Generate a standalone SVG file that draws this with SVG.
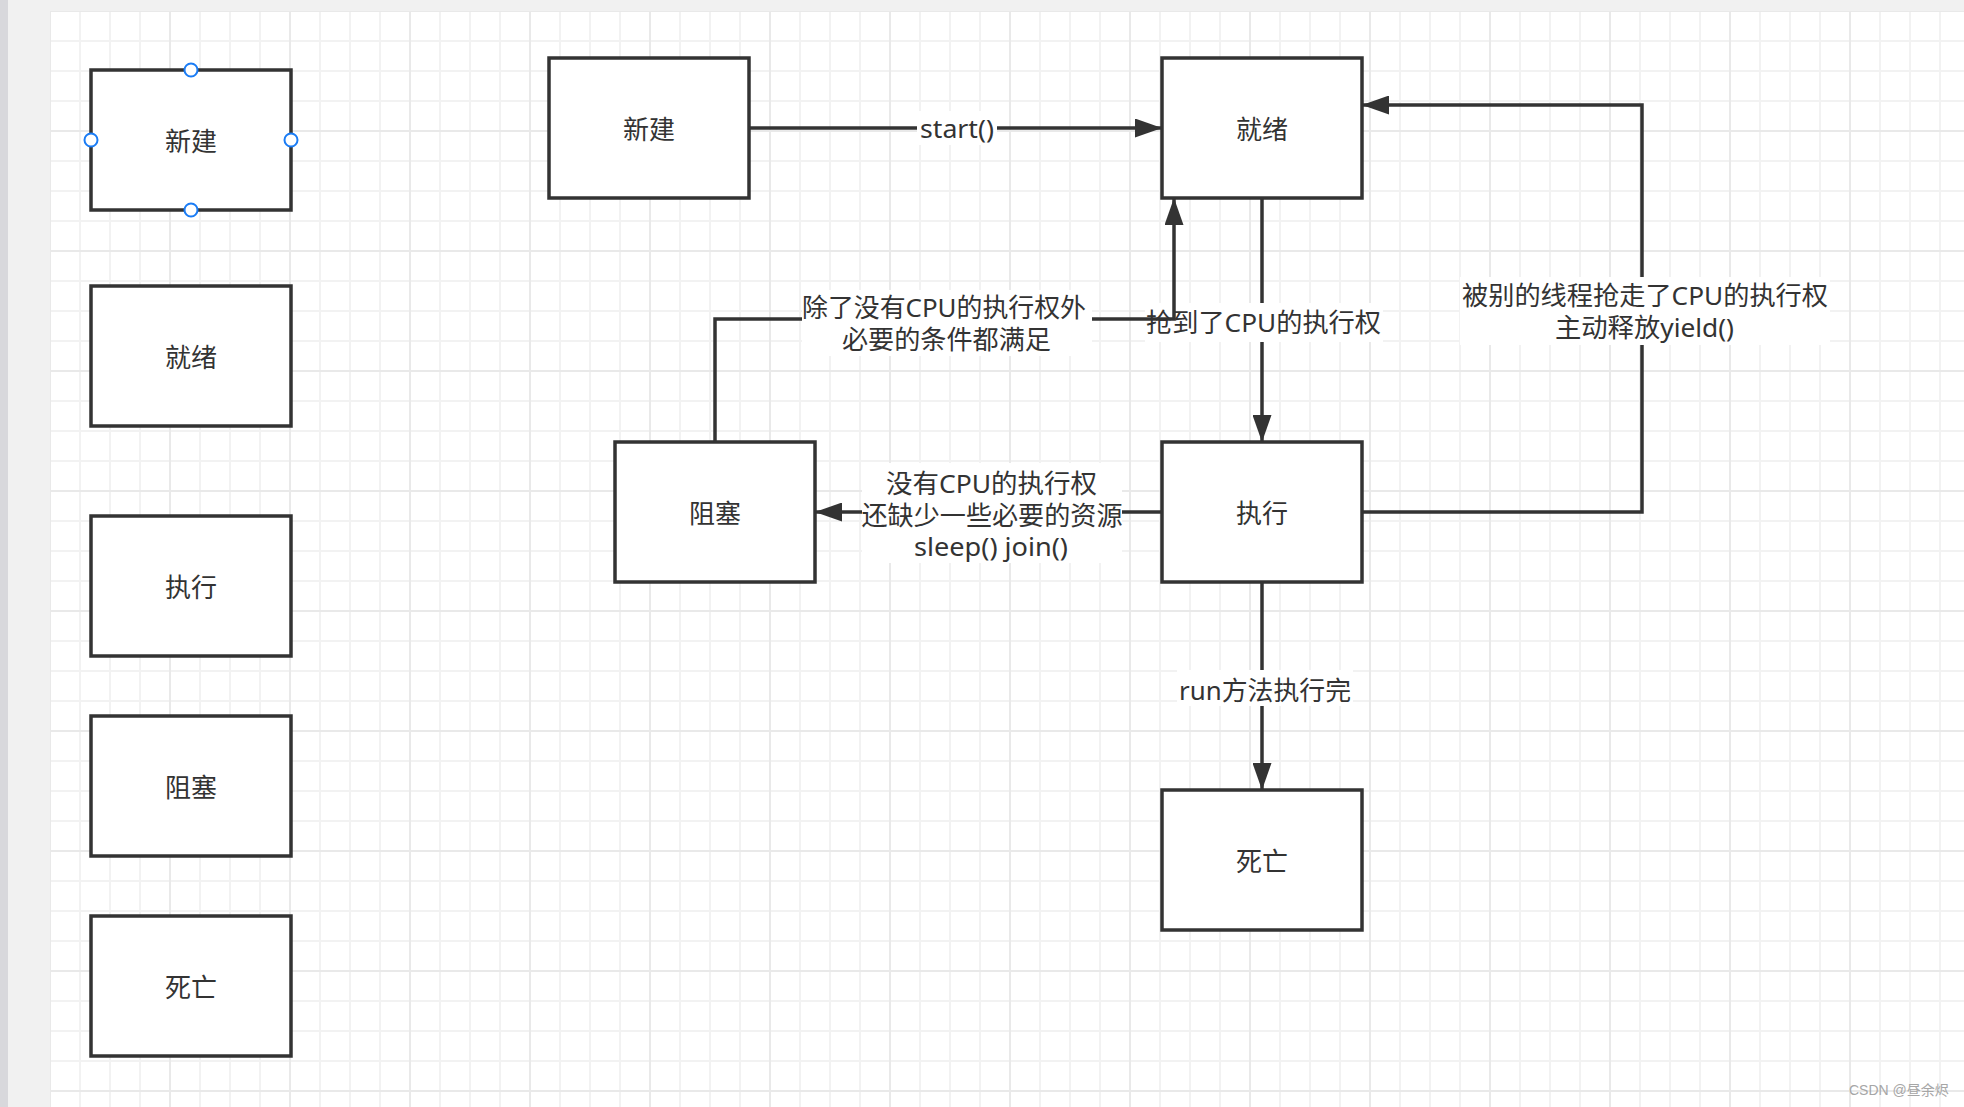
<svg xmlns="http://www.w3.org/2000/svg" width="1964" height="1107" viewBox="0 0 1964 1107">
<style>
  .node rect { fill: #fff; stroke: #333; stroke-width: 3.5; }
  .node text, .lbl text { font-family: "Noto Sans", "Noto Sans CJK SC", sans-serif; font-size: 26px; fill: #333; text-anchor: middle; dominant-baseline: central; }
  .edge { fill: none; stroke: #333; stroke-width: 3.5; }
  .lbl rect { fill: #fff; }
  .handle { fill: #fff; stroke: #1a7cf5; stroke-width: 2; }
  .wm { font-family: "Liberation Sans", "Noto Sans CJK SC", sans-serif; font-size: 14px; fill: #a6a6a6; }
</style>
<defs>
  <pattern id="grid" patternUnits="userSpaceOnUse" x="49" y="10" width="120" height="120">
    <rect width="120" height="120" fill="#fff"/>
    <rect x="30" y="0" width="2" height="120" fill="#f2f2f2"/>
    <rect x="60" y="0" width="2" height="120" fill="#f2f2f2"/>
    <rect x="90" y="0" width="2" height="120" fill="#f2f2f2"/>
    <rect x="0" y="30" width="120" height="2" fill="#f2f2f2"/>
    <rect x="0" y="60" width="120" height="2" fill="#f2f2f2"/>
    <rect x="0" y="90" width="120" height="2" fill="#f2f2f2"/>
    <rect x="0" y="0" width="2" height="120" fill="#e9e9e9"/>
    <rect x="0" y="0" width="120" height="2" fill="#e9e9e9"/>
  </pattern>
  <marker id="arrow" markerUnits="userSpaceOnUse" markerWidth="27" markerHeight="19" refX="27" refY="9.5" orient="auto">
    <path d="M0,0 L27,9.5 L0,19 Z" fill="#333"/>
  </marker>
</defs>

<!-- background -->
<rect x="0" y="0" width="1964" height="1107" fill="#f1f1f1"/>
<rect x="0" y="0" width="8" height="1107" fill="#d8d8dc"/>
<rect x="50" y="11" width="1914" height="1096" fill="url(#grid)"/>

<!-- palette nodes -->
<g id="palette-new" class="node">
  <rect x="91" y="70" width="200" height="140"/>
  <text x="191" y="141">新建</text>
  <circle class="handle" cx="191" cy="70" r="6.5"/>
  <circle class="handle" cx="91" cy="140" r="6.5"/>
  <circle class="handle" cx="291" cy="140" r="6.5"/>
  <circle class="handle" cx="191" cy="210" r="6.5"/>
</g>
<g id="palette-ready" class="node">
  <rect x="91" y="286" width="200" height="140"/>
  <text x="191" y="357">就绪</text>
</g>
<g id="palette-running" class="node">
  <rect x="91" y="516" width="200" height="140"/>
  <text x="191" y="587">执行</text>
</g>
<g id="palette-blocked" class="node">
  <rect x="91" y="716" width="200" height="140"/>
  <text x="191" y="787">阻塞</text>
</g>
<g id="palette-dead" class="node">
  <rect x="91" y="916" width="200" height="140"/>
  <text x="191" y="987">死亡</text>
</g>

<!-- main nodes -->
<g id="node-new" class="node">
  <rect x="549" y="58" width="200" height="140"/>
  <text x="649" y="129">新建</text>
</g>
<g id="node-ready" class="node">
  <rect x="1162" y="58" width="200" height="140"/>
  <text x="1262" y="129">就绪</text>
</g>
<g id="node-blocked" class="node">
  <rect x="615" y="442" width="200" height="140"/>
  <text x="715" y="513">阻塞</text>
</g>
<g id="node-running" class="node">
  <rect x="1162" y="442" width="200" height="140"/>
  <text x="1262" y="513">执行</text>
</g>
<g id="node-dead" class="node">
  <rect x="1162" y="790" width="200" height="140"/>
  <text x="1262" y="861">死亡</text>
</g>

<!-- connectors -->
<g id="connectors">
  <path class="edge" d="M749,128 H1162" marker-end="url(#arrow)"/>
  <g class="lbl">
    <rect x="917" y="111" width="80" height="34"/>
    <text x="957" y="128" textLength="74" lengthAdjust="spacingAndGlyphs">start()</text>
  </g>

  <path class="edge" d="M1262,198 V442" marker-end="url(#arrow)"/>
  <g class="lbl">
    <rect x="1145" y="303" width="238" height="39"/>
    <text x="1263.5" y="321.5" textLength="235" lengthAdjust="spacingAndGlyphs">抢到了CPU的执行权</text>
  </g>

  <path class="edge" d="M715,442 V319 H1174 V198" marker-end="url(#arrow)"/>
  <g class="lbl">
    <rect x="802" y="290" width="290" height="66"/>
    <text x="944" y="307" textLength="284" lengthAdjust="spacingAndGlyphs">除了没有CPU的执行权外</text>
    <text x="946.5" y="339" textLength="209" lengthAdjust="spacingAndGlyphs">必要的条件都满足</text>
  </g>

  <path class="edge" d="M1162,512 H815" marker-end="url(#arrow)"/>
  <g class="lbl">
    <rect x="862" y="463" width="260" height="100"/>
    <text x="991.5" y="482.5" textLength="211" lengthAdjust="spacingAndGlyphs">没有CPU的执行权</text>
    <text x="992" y="515" textLength="261" lengthAdjust="spacingAndGlyphs">还缺少一些必要的资源</text>
    <text x="991" y="546" textLength="154" lengthAdjust="spacingAndGlyphs">sleep() join()</text>
  </g>

  <path class="edge" d="M1362,512 H1642 V105 H1362" marker-end="url(#arrow)"/>
  <g class="lbl">
    <rect x="1460" y="277" width="370" height="68"/>
    <text x="1645" y="294.5" textLength="366" lengthAdjust="spacingAndGlyphs">被别的线程抢走了CPU的执行权</text>
    <text x="1644.5" y="327" textLength="179" lengthAdjust="spacingAndGlyphs">主动释放yield()</text>
  </g>

  <path class="edge" d="M1262,582 V790" marker-end="url(#arrow)"/>
  <g class="lbl">
    <rect x="1177" y="670" width="176" height="36"/>
    <text x="1265" y="690" textLength="172" lengthAdjust="spacingAndGlyphs">run方法执行完</text>
  </g>
</g>

<text class="wm" x="1849" y="1095">CSDN @昼余烬</text>
</svg>
